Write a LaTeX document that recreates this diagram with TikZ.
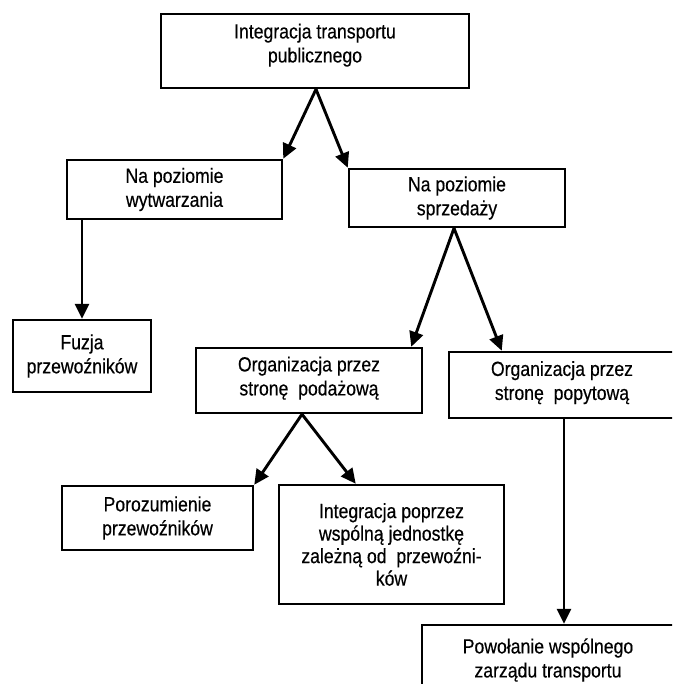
\documentclass[tikz,border=0pt]{standalone}
\usepackage{fontspec}
\setmainfont{Liberation Sans}[FakeStretch=0.86,FakeBold=0.4]
\usetikzlibrary{arrows.meta,calc}
\begin{document}
\begin{tikzpicture}[x=1pt,y=-1pt,
  box/.style={draw, line width=2.5pt, rectangle, inner sep=0pt, align=center,
    font=\fontsize{20.5}{24}\selectfont},
  arr/.style={line width=2.9pt, -{Triangle[length=15pt,width=14pt]}}]
\useasboundingbox (0,0) rectangle (672,684);
\clip (0,0) rectangle (672,684);
\fill[white] (0,0) rectangle (672,684);
\node[box, minimum width=308pt, minimum height=74pt, text depth=16pt] (top) at (315,51)
  {Integracja transportu\\publicznego};
\node[box, minimum width=215pt, minimum height=59pt] (wyt) at (174.5,189.5)
  {Na poziomie\\wytwarzania};
\node[box, minimum width=216pt, minimum height=58pt] (sprz) at (457,198)
  {Na poziomie\\sprzedaży};
\node[box, minimum width=138pt, minimum height=72pt] (fuz) at (82,356)
  {Fuzja\\przewoźników};
\node[box, minimum width=226pt, minimum height=65pt, text depth=9pt] (pod) at (309,380.5)
  {Organizacja przez\\stronę\ \ podażową};
\node[box, minimum width=226pt, minimum height=66pt, text depth=9pt] (pop) at (562,385)
  {Organizacja przez\\stronę\ \ popytową};
\node[box, minimum width=191pt, minimum height=64pt] (por) at (157.5,518)
  {Porozumienie\\przewoźników};
\node[box, minimum width=225pt, minimum height=119pt, font=\fontsize{20.5}{22.5}\selectfont] (int) at (391.5,544.5)
  {Integracja poprzez\\wspólną jednostkę\\zależną od\ \ przewoźni-\\ków};
\node[box, minimum width=252pt, minimum height=70pt] (pow) at (548,660)
  {Powołanie wspólnego\\zarządu transportu};
\draw[arr] ([xshift=1pt]top.south) -- (wyt.north east);
\draw[arr] ([xshift=1pt]top.south) -- (sprz.north west);
\draw[arr] (fuz.north |- wyt.south) -- (fuz.north);
\draw[arr] ([xshift=-3pt]sprz.south) -- ([xshift=-12pt]pod.north east);
\draw[arr] ([xshift=-3pt]sprz.south) -- ([xshift=54pt]pop.north west);
\draw[arr] ([xshift=-7pt]pod.south) -- (por.north east);
\draw[arr] ([xshift=-7pt]pod.south) -- ([xshift=78pt]int.north west);
\draw[arr] ([xshift=2pt]pop.south) -- ([xshift=2pt]pop.south |- pow.north);
\end{tikzpicture}
\end{document}
